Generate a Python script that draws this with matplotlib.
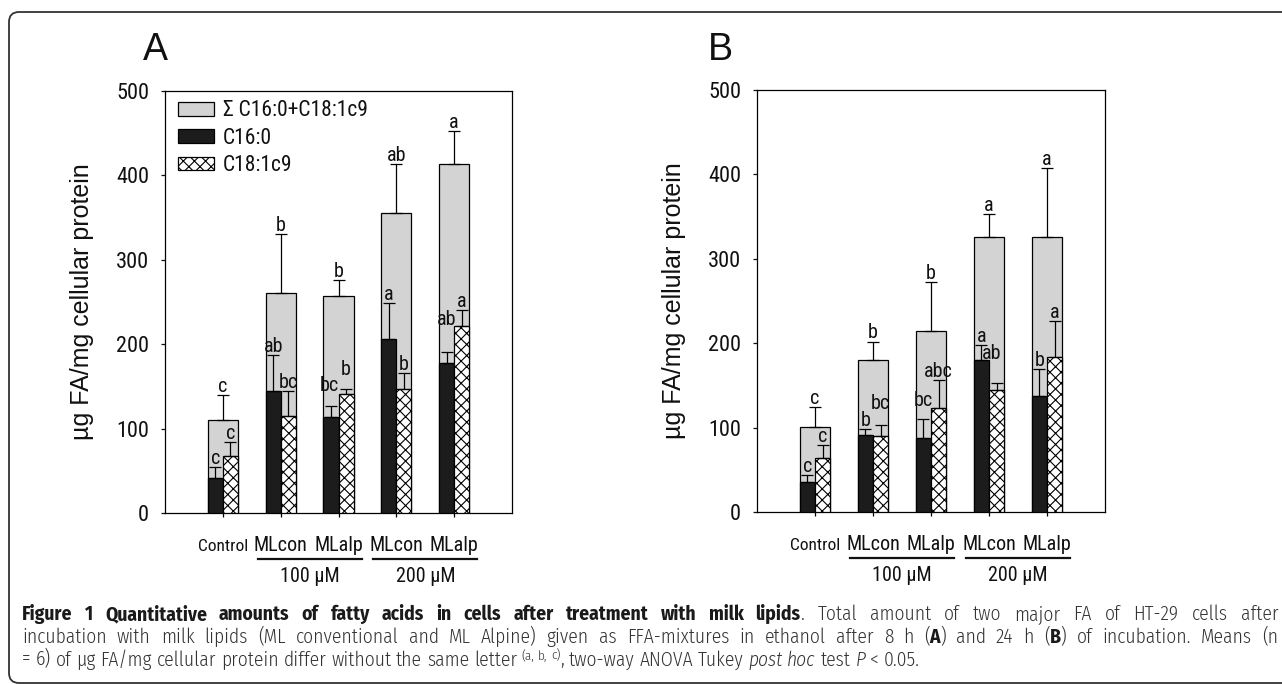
import matplotlib
matplotlib.use("Agg")
import matplotlib.pyplot as plt
from matplotlib.patches import Patch, FancyBboxPatch
from matplotlib.lines import Line2D
from matplotlib.transforms import IdentityTransform, blended_transform_factory
import numpy as np

# ---------------- data ----------------
groups = ["Control", "MLcon", "MLalp", "MLcon", "MLalp"]
conc_labels = ["100 µM", "200 µM"]
legend_labels = ["Σ C16:0+C18:1c9", "C16:0", "C18:1c9"]
yticks = [0, 100, 200, 300, 400, 500]

A_sum = [110, 261, 257, 355, 413]
A_sum_sd = [30, 69, 19, 58, 40]
A_c16 = [42, 144, 114, 206, 178]
A_c16_sd = [13, 43, 13, 43, 13]
A_c18 = [68, 115, 141, 147, 222]
A_c18_sd = [16, 30, 6, 19, 19]
A_sum_let = ["c", "b", "b", "ab", "a"]
A_c16_let = ["c", "ab", "bc", "a", "ab"]
A_c18_let = ["c", "bc", "b", "b", "a"]

B_sum = [101, 180, 214, 326, 326]
B_sum_sd = [23, 22, 59, 27, 81]
B_c16 = [35, 91, 88, 180, 137]
B_c16_sd = [9, 7, 22, 18, 32]
B_c18 = [64, 90, 123, 145, 184]
B_c18_sd = [15, 13, 33, 8, 42]
B_sum_let = ["c", "b", "b", "a", "a"]
B_c16_let = ["c", "b", "bc", "a", "b"]
B_c18_let = ["c", "bc", "abc", "ab", "a"]

# ---------------- style ----------------
CH = ["Roboto Condensed", "DejaVu Sans"]
plt.rcParams["font.family"] = CH
plt.rcParams["hatch.linewidth"] = 0.8
GRAY = "#d3d3d3"
BLACK = "#1c1c1c"
TXT = "#111111"
W = 1282
H = 684

fig = plt.figure(figsize=(W / 100, H / 100), dpi=100)

axA = fig.add_axes([165 / W, 1 - 513 / H, 347 / W, 422 / H])
axB = fig.add_axes([757 / W, 1 - 512 / H, 348 / W, 422 / H])

# extra label offsets (points) for crowded letters: (series, index) -> (dx, dy)
offsA = {("c16", 2): (-1, 8.6), ("c18", 2): (0, 8), ("c16", 4): (0, 17)}
offsB = {("c18", 1): (0, 9.7), ("c16", 2): (0, 7), ("c18", 3): (-3.6, 15)}


def draw_panel(ax, s, ssd, c16, c16sd, c18, c18sd, sl, l16, l18, offs):
    x = np.arange(1, len(groups) + 1)
    ax.bar(x, s, width=0.52, color=GRAY, edgecolor="black", linewidth=0.9, zorder=2)
    ax.bar(x - 0.13, c16, width=0.26, color=BLACK, edgecolor="black", linewidth=0.9, zorder=3)
    ax.bar(x + 0.13, c18, width=0.26, color="white", edgecolor="black", hatch="xxx",
           linewidth=0.9, zorder=3)
    ekw = dict(fmt="none", ecolor="black", elinewidth=0.9, capsize=4.5, capthick=0.9, zorder=4)
    z = np.zeros(len(x))
    ax.errorbar(x, s, yerr=[z, ssd], **ekw)
    ax.errorbar(x - 0.13, c16, yerr=[z, c16sd], **ekw)
    ax.errorbar(x + 0.13, c18, yerr=[z, c18sd], **ekw)
    for key, xs, vals, sds, lets in (("sum", x, s, ssd, sl), ("c16", x - 0.13, c16, c16sd, l16),
                                     ("c18", x + 0.13, c18, c18sd, l18)):
        for i in range(len(xs)):
            dx, dy = offs.get((key, i), (0, 0))
            ax.annotate(lets[i], (xs[i], vals[i] + sds[i]), xytext=(dx, 2.2 + dy),
                        textcoords="offset points", ha="center", va="baseline",
                        fontsize=14.5, color=TXT, zorder=5)
    ax.set_xlim(0, 6)
    ax.set_ylim(0, 500)
    ax.set_yticks(yticks)
    ax.set_yticklabels([str(t) for t in yticks])
    ax.set_xticks(x)
    ax.set_xticklabels([])
    ax.tick_params(axis="y", labelsize=16, length=3, width=0.9, pad=8.5, colors=TXT)
    ax.tick_params(axis="x", length=3, width=0.9)
    for sp in ax.spines.values():
        sp.set_linewidth(0.9)
    ax.set_ylabel("µg FA/mg cellular protein", fontsize=18, color=TXT,
                  family=["Liberation Sans", "DejaVu Sans"])
    ax.yaxis.set_label_coords(-0.205, 0.5)
    tr = blended_transform_factory(ax.transData, ax.transAxes)
    for i, g in enumerate(groups):
        ax.text(x[i], -0.0893, g, transform=tr, ha="center", va="baseline",
                fontsize=12.5 if i == 0 else 14.5, color=TXT)
    for j, lab in enumerate(conc_labels):
        a, b = x[1 + 2 * j], x[2 + 2 * j]
        ax.add_line(Line2D([a - 0.4, b + 0.4], [-0.108, -0.108], transform=tr, color=TXT,
                           lw=1.6, clip_on=False))
        ax.text((a + b) / 2, -0.163, lab, transform=tr, ha="center", va="baseline",
                fontsize=14.5, color=TXT)


draw_panel(axA, A_sum, A_sum_sd, A_c16, A_c16_sd, A_c18, A_c18_sd,
           A_sum_let, A_c16_let, A_c18_let, offsA)
draw_panel(axB, B_sum, B_sum_sd, B_c16, B_c16_sd, B_c18, B_c18_sd,
           B_sum_let, B_c16_let, B_c18_let, offsB)

handles = [Patch(facecolor=GRAY, edgecolor="black", linewidth=0.9),
           Patch(facecolor=BLACK, edgecolor="black", linewidth=0.9),
           Patch(facecolor="white", edgecolor="black", hatch="xxx", linewidth=0.9)]
leg = axA.legend(handles, legend_labels, loc="upper left", bbox_to_anchor=(0.037, 0.978),
                 frameon=False, fontsize=15.5, handlelength=1.7, handleheight=0.6,
                 handletextpad=0.4, labelspacing=0.3, borderpad=0, borderaxespad=0)
for t in leg.get_texts():
    t.set_color(TXT)

PL = ["Liberation Sans", "DejaVu Sans"]
fig.text(143, H - 60, "A", transform=IdentityTransform(), fontsize=27, ha="left",
         va="baseline", color=TXT, family=PL)
fig.text(708, H - 60, "B", transform=IdentityTransform(), fontsize=27, ha="left",
         va="baseline", color=TXT, family=PL)

# border
fig.add_artist(FancyBboxPatch((9, 1), 1400, 671, boxstyle="round,pad=0,rounding_size=10",
                              transform=IdentityTransform(), fill=False, lw=1.3,
                              ec="#333333"))

# ---------------- caption ----------------
line1 = [("Figure 1 Quantitative amounts of fatty acids in cells after treatment with milk lipids", "b"),
         (". Total amount of two major FA of HT-29 cells after", "n")]
line2 = [("incubation with milk lipids (ML conventional and ML Alpine) given as FFA-mixtures in ethanol after 8 h (", "n"),
         ("A", "b"), (") and 24 h (", "n"), ("B", "b"), (") of incubation. Means (n", "n")]
line3 = [("= 6) of µg FA/mg cellular protein differ without the same letter ", "n"),
         ("(a, b, c)", "s"), (", two-way ANOVA Tukey ", "n"), ("post hoc", "i"), (" test ", "n"),
         ("P", "i"), (" < 0.05.", "n")]

CAP = ["Fira Sans Condensed", "Open Sans", "DejaVu Sans"]
renderer = fig.canvas.get_renderer()


def props(kind, fs):
    d = dict(family=CAP, fontsize=fs, color="#333333", fontweight=300, fontstyle="normal")
    if kind == "b":
        d.update(fontweight="bold", color="#1a1a1a")
    if kind == "i":
        d.update(fontstyle="italic")
    if kind == "s":
        d.update(fontsize=fs * 0.68)
    return d


def measure(s, kind, fs):
    t = fig.text(0, 0, s, transform=IdentityTransform(), **props(kind, fs))
    w = t.get_window_extent(renderer).width
    t.remove()
    return w


def tokens(runs):
    out = []
    for txt, kind in runs:
        parts = txt.split(" ")
        for k, p in enumerate(parts):
            if k > 0:
                out.append((" ", kind))
            if p:
                out.append((p, kind))
    return out


def layout(runs, fs, x0, ybase, width=None, draw=True):
    toks = tokens(runs)
    sp = {}
    widths = []
    for s, kind in toks:
        if s == " ":
            if kind not in sp:
                sp[kind] = measure("a a", kind, fs) - measure("aa", kind, fs)
            widths.append(sp[kind])
        else:
            widths.append(measure(s, kind, fs))
    total = sum(widths)
    if not draw:
        return total
    nsp = sum(1 for s, _ in toks if s == " ")
    extra = (width - total) / nsp if (width and nsp) else 0
    x = x0
    for (s, kind), w in zip(toks, widths):
        if s == " ":
            x += w + extra
            continue
        dy = 6 if kind == "s" else 0
        fig.text(x, H - ybase + dy, s, transform=IdentityTransform(), ha="left", va="baseline",
                 **props(kind, fs))
        x += w
    return total


fs = 13.0
target = 1278 - 22
nat = max(layout(line1, fs, 0, 0, draw=False), layout(line2, fs, 0, 0, draw=False))
fs = min(14.0, max(10.0, fs * target * 0.985 / nat))
layout(line1, fs, 22, 620, width=target)
layout(line2, fs, 22, 643, width=target)
layout(line3, fs, 22, 665.5)

fig.savefig("out.png", dpi=100)
